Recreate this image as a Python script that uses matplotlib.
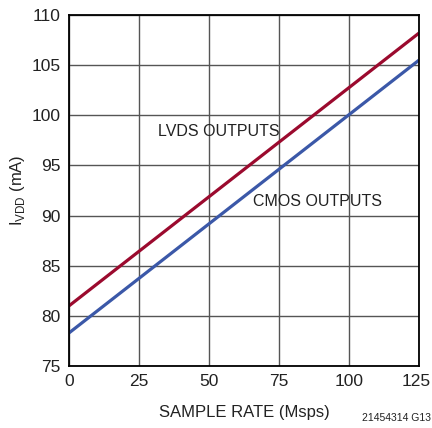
import matplotlib
matplotlib.use("Agg")
import matplotlib.pyplot as plt
from matplotlib.transforms import ScaledTranslation

matplotlib.rcParams["font.family"] = ["Liberation Sans", "DejaVu Sans"]

# data
sample_rate = [0, 125]
lvds_ma = [81.0, 108.2]
cmos_ma = [78.3, 105.5]
x_ticks = [0, 25, 50, 75, 100, 125]
y_ticks = [75, 80, 85, 90, 95, 100, 105, 110]

fig = plt.figure(figsize=(4.32, 4.28), dpi=100)
ax = fig.add_axes([0.160, 0.145, 0.810, 0.820])

ax.plot(sample_rate, lvds_ma, color="#9b0a2e", linewidth=2.3, solid_capstyle="butt")
ax.plot(sample_rate, cmos_ma, color="#3b58a8", linewidth=2.3, solid_capstyle="butt")

ax.set_xlim(0, 125)
ax.set_ylim(75, 110)
ax.set_xticks(x_ticks)
ax.set_yticks(y_ticks)
ax.grid(True, color="#555555", linewidth=1.0)
ax.set_axisbelow(True)
for s in ax.spines.values():
    s.set_linewidth(1.3)
ax.tick_params(length=0, labelsize=12.5, pad=6, colors="#222222")

# 右端の "125" が画像の外にはみ出さないよう少し左へ寄せる
last = ax.get_xticklabels()[-1]
last.set_transform(last.get_transform() + ScaledTranslation(-3 / 100, 0, fig.dpi_scale_trans))

ax.set_xlabel("SAMPLE RATE (Msps)", fontsize=12, labelpad=11, color="#222222")
ax.set_ylabel(r"I$_{\mathregular{VDD}}$ (mA)", fontsize=12, labelpad=3, color="#222222")

ax.text(31.8, 98.4, "LVDS OUTPUTS", fontsize=11.5, va="center", ha="left", color="#222222")
ax.text(65.6, 91.4, "CMOS OUTPUTS", fontsize=11.5, va="center", ha="left", color="#222222")

fig.text(0.998, 0.012, "21454314 G13", fontsize=7.5, ha="right", va="bottom", color="#222222")

fig.savefig("out.png", dpi=100)
